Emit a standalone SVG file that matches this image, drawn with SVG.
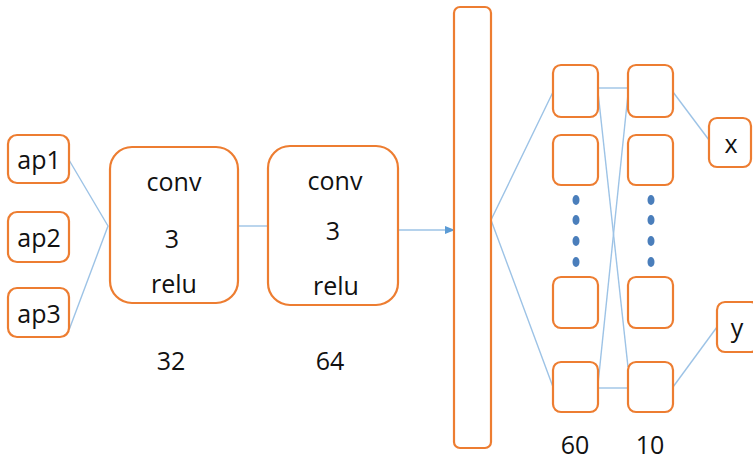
<svg xmlns="http://www.w3.org/2000/svg" width="753" height="460" viewBox="0 0 753 460">
<defs>
<style>
.n{fill:#fff;stroke:#ED7D31;stroke-width:2.2}
.c{fill:none;stroke:#9DC3E6;stroke-width:1.4}
.t{font-family:"Open Sans","Liberation Sans",sans-serif;font-size:25px;fill:#111;text-anchor:middle;dominant-baseline:central}
.d{fill:#4A7EBB}
</style>
<marker id="ah" markerWidth="10" markerHeight="8" refX="9" refY="4" orient="auto" markerUnits="userSpaceOnUse">
<path d="M0,0 L10,4 L0,8 Z" fill="#5B9BD5"/>
</marker>
</defs>
<rect width="753" height="460" fill="#fff"/>
<g id="connectors">
<polyline class="c" points="69,160 108,226 69,330"/>
<line class="c" x1="238" y1="226" x2="268" y2="226"/>
<line class="c" x1="398" y1="230" x2="454" y2="230" stroke="#5B9BD5" marker-end="url(#ah)"/>
<polyline class="c" points="553,92 491,220 553,387"/>
<line class="c" x1="598" y1="88" x2="628" y2="88"/>
<line class="c" x1="598" y1="92" x2="628" y2="367"/>
<line class="c" x1="598" y1="384" x2="628" y2="94"/>
<line class="c" x1="598" y1="388" x2="628" y2="388"/>
<line class="c" x1="673" y1="92" x2="709" y2="140"/>
<line class="c" x1="673" y1="387" x2="717" y2="327"/>
</g>
<g id="ap1"><rect class="n" x="8" y="135" width="61" height="48" rx="9"/><text class="t" x="39" y="159">ap1</text></g>
<g id="ap2"><rect class="n" x="8" y="212" width="61" height="50" rx="9"/><text class="t" x="39" y="237">ap2</text></g>
<g id="ap3"><rect class="n" x="8" y="288" width="61" height="49" rx="9"/><text class="t" x="39" y="313">ap3</text></g>
<g id="conv1"><rect class="n" x="110" y="147" width="128" height="156" rx="22"/>
<text class="t" x="174" y="181">conv</text><text class="t" x="172" y="238">3</text><text class="t" x="174" y="283">relu</text></g>
<g id="conv2"><rect class="n" x="268" y="146" width="130" height="159" rx="22"/>
<text class="t" x="335" y="180">conv</text><text class="t" x="333" y="230">3</text><text class="t" x="336" y="285">relu</text></g>
<text class="t" x="171" y="360">32</text>
<text class="t" x="330" y="360">64</text>
<g id="flatten"><rect class="n" x="454" y="7" width="37" height="441" rx="6"/></g>
<g id="h1a"><rect class="n" x="553" y="65" width="45" height="52" rx="8"/></g>
<g id="h1b"><rect class="n" x="553" y="135" width="45" height="50" rx="8"/></g>
<g id="h1c"><rect class="n" x="553" y="277" width="45" height="51" rx="8"/></g>
<g id="h1d"><rect class="n" x="553" y="362" width="45" height="50" rx="8"/></g>
<g id="h2a"><rect class="n" x="628" y="65" width="45" height="52" rx="8"/></g>
<g id="h2b"><rect class="n" x="628" y="135" width="45" height="50" rx="8"/></g>
<g id="h2c"><rect class="n" x="628" y="277" width="45" height="51" rx="8"/></g>
<g id="h2d"><rect class="n" x="628" y="362" width="45" height="50" rx="8"/></g>
<g id="dots1">
<ellipse class="d" cx="576" cy="200" rx="3.5" ry="5"/><ellipse class="d" cx="576" cy="220" rx="3.5" ry="5"/>
<ellipse class="d" cx="576" cy="241" rx="3.5" ry="5"/><ellipse class="d" cx="576" cy="262" rx="3.5" ry="5"/>
</g>
<g id="dots2">
<ellipse class="d" cx="651" cy="200" rx="3.5" ry="5"/><ellipse class="d" cx="651" cy="220" rx="3.5" ry="5"/>
<ellipse class="d" cx="651" cy="241" rx="3.5" ry="5"/><ellipse class="d" cx="651" cy="262" rx="3.5" ry="5"/>
</g>
<g id="x"><rect class="n" x="709" y="118" width="42" height="49" rx="8"/><text class="t" x="731" y="143">x</text></g>
<g id="y"><rect class="n" x="717" y="302" width="42" height="50" rx="8"/><text class="t" x="737" y="327">y</text></g>
<text class="t" x="575" y="444">60</text>
<text class="t" x="650" y="444">10</text>
</svg>
